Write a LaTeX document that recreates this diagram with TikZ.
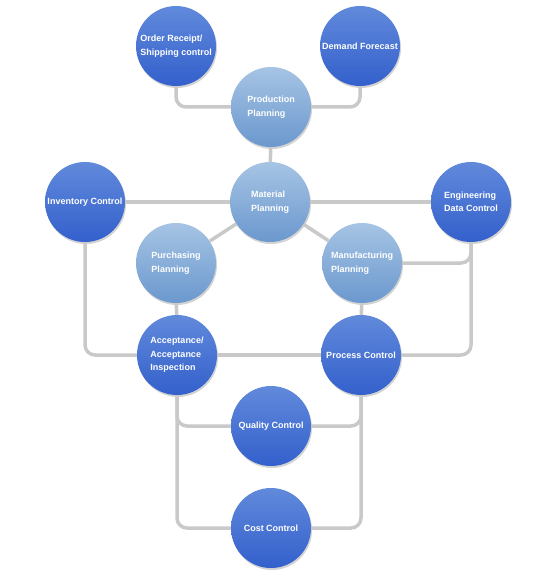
\documentclass[tikz,border=0pt]{standalone}
\usepackage{fontspec}
\setmainfont{Liberation Sans}
\usetikzlibrary{shadows}
\definecolor{darkTop}{HTML}{618ADB}
\definecolor{darkBot}{HTML}{3360CC}
\definecolor{lightTop}{HTML}{A6C4E4}
\definecolor{lightBot}{HTML}{6B98CE}
\definecolor{linkline}{HTML}{C9C9C9}

\begin{document}
\begin{tikzpicture}[x=1pt,y=-1pt,
    ball/.style={circle,minimum size=80pt,inner sep=0pt,align=left,
      text=white,font=\fontsize{9}{13.5}\selectfont\bfseries,
      drop shadow={opacity=0.35,shadow xshift=1pt,shadow yshift=-2pt}},
    darkball/.style={ball,top color=darkTop,bottom color=darkBot},
    lightball/.style={ball,top color=lightTop,bottom color=lightBot},
    link/.style={linkline,line width=3.5pt,rounded corners=10pt}]
  \useasboundingbox (0,0) rectangle (558,580);
  % nodes
  \node[darkball] (order) at (176,46) {Order Receipt/\\Shipping control};
  \node[darkball] (demand) at (360,46) {Demand Forecast};
  \node[lightball] (prod) at (271,107) {Production\\Planning};
  \node[lightball] (mat) at (270,202) {Material\\Planning};
  \node[darkball] (inv) at (85,202) {Inventory Control};
  \node[darkball] (eng) at (471,202) {Engineering\\Data Control};
  \node[lightball] (purch) at (176,263) {Purchasing\\Planning};
  \node[lightball] (manu) at (362,263) {Manufacturing\\Planning};
  \node[darkball] (acc) at (177,355) {Acceptance/\\Acceptance\\Inspection};
  \node[darkball] (proc) at (361,355) {Process Control};
  \node[darkball] (qual) at (271,426) {Quality Control};
  \node[darkball] (cost) at (271,528) {Cost Control};
  % links
  \draw[link] (order.south) |- (prod.west);
  \draw[link] (demand.south) |- (prod.east);
  \draw[link] (prod) -- (mat);
  \draw[link] (inv) -- (mat);
  \draw[link] (mat) -- (eng);
  \draw[link] (mat) -- (purch);
  \draw[link] (mat) -- (manu);
  \draw[link] (manu.east) -| (eng.south);
  \draw[link] (eng.south) |- (proc.east);
  \draw[link] (inv.south) |- (acc.west);
  \draw[link] (purch) -- (acc);
  \draw[link] (manu) -- (proc);
  \draw[link] (acc) -- (proc);
  \draw[link] (acc.south) |- (qual.west);
  \draw[link] (acc.south) |- (cost.west);
  \draw[link] (proc.south) |- (qual.east);
  \draw[link] (proc.south) |- (cost.east);
\end{tikzpicture}
\end{document}
